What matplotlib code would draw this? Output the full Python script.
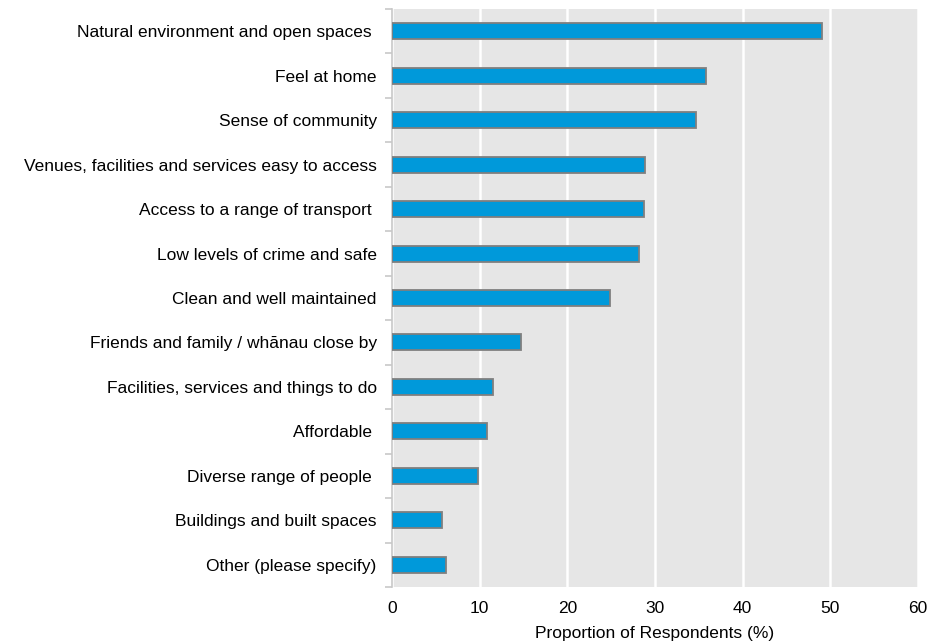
import numpy as np
import matplotlib
matplotlib.use("Agg")
import matplotlib.pyplot as plt

# Reasons respondents like living in their area (top to bottom)
categories = [
    "Natural environment and open spaces ",
    "Feel at home",
    "Sense of community",
    "Venues, facilities and services easy to access",
    "Access to a range of transport ",
    "Low levels of crime and safe",
    "Clean and well maintained",
    "Friends and family / wh\u0101nau close by",
    "Facilities, services and things to do",
    "Affordable ",
    "Diverse range of people ",
    "Buildings and built spaces",
    "Other (please specify)",
]
percent = [49.1, 35.8, 34.7, 28.9, 28.7, 28.2, 24.9, 14.7, 11.5, 10.8, 9.8, 5.7, 6.2]
x_ticks = [0, 10, 20, 30, 40, 50, 60]

plt.rcParams["font.family"] = ["Liberation Sans", "DejaVu Sans"]

fig = plt.figure(figsize=(9.53, 6.44), dpi=100)
ax = fig.add_axes([0.4113, 0.0885, 0.5520, 0.8975])

n = len(categories)
ypos = np.arange(n)
ax.barh(ypos, percent, height=0.36, color="#0099da", edgecolor="#7f7f7f",
        linewidth=1.3, zorder=3)

ax.set_facecolor("#e6e6e6")
ax.set_xlim(0, 60)
ax.set_ylim(n - 0.5, -0.5)
ax.set_xticks(x_ticks)
ax.set_xticklabels([str(t) for t in x_ticks], fontsize=12.5)
ax.tick_params(axis="x", length=0, pad=10)
ax.grid(axis="x", color="white", linewidth=1.8, zorder=1)

ax.set_yticks(ypos)
ax.set_yticklabels(categories, fontsize=12.5)
ax.tick_params(axis="y", length=0, pad=11)
# small marks between categories
ax.set_yticks(np.arange(-0.5, n + 0.5, 1), minor=True)
ax.tick_params(axis="y", which="minor", length=5, color="#c8c8c8", width=1.2)

for side in ["top", "right", "bottom"]:
    ax.spines[side].set_visible(False)
ax.spines["left"].set_color("#c8c8c8")
ax.spines["left"].set_linewidth(1.2)

ax.set_xlabel("Proportion of Respondents (%)", fontsize=12.5, labelpad=7)

fig.savefig("out.png", dpi=100)
